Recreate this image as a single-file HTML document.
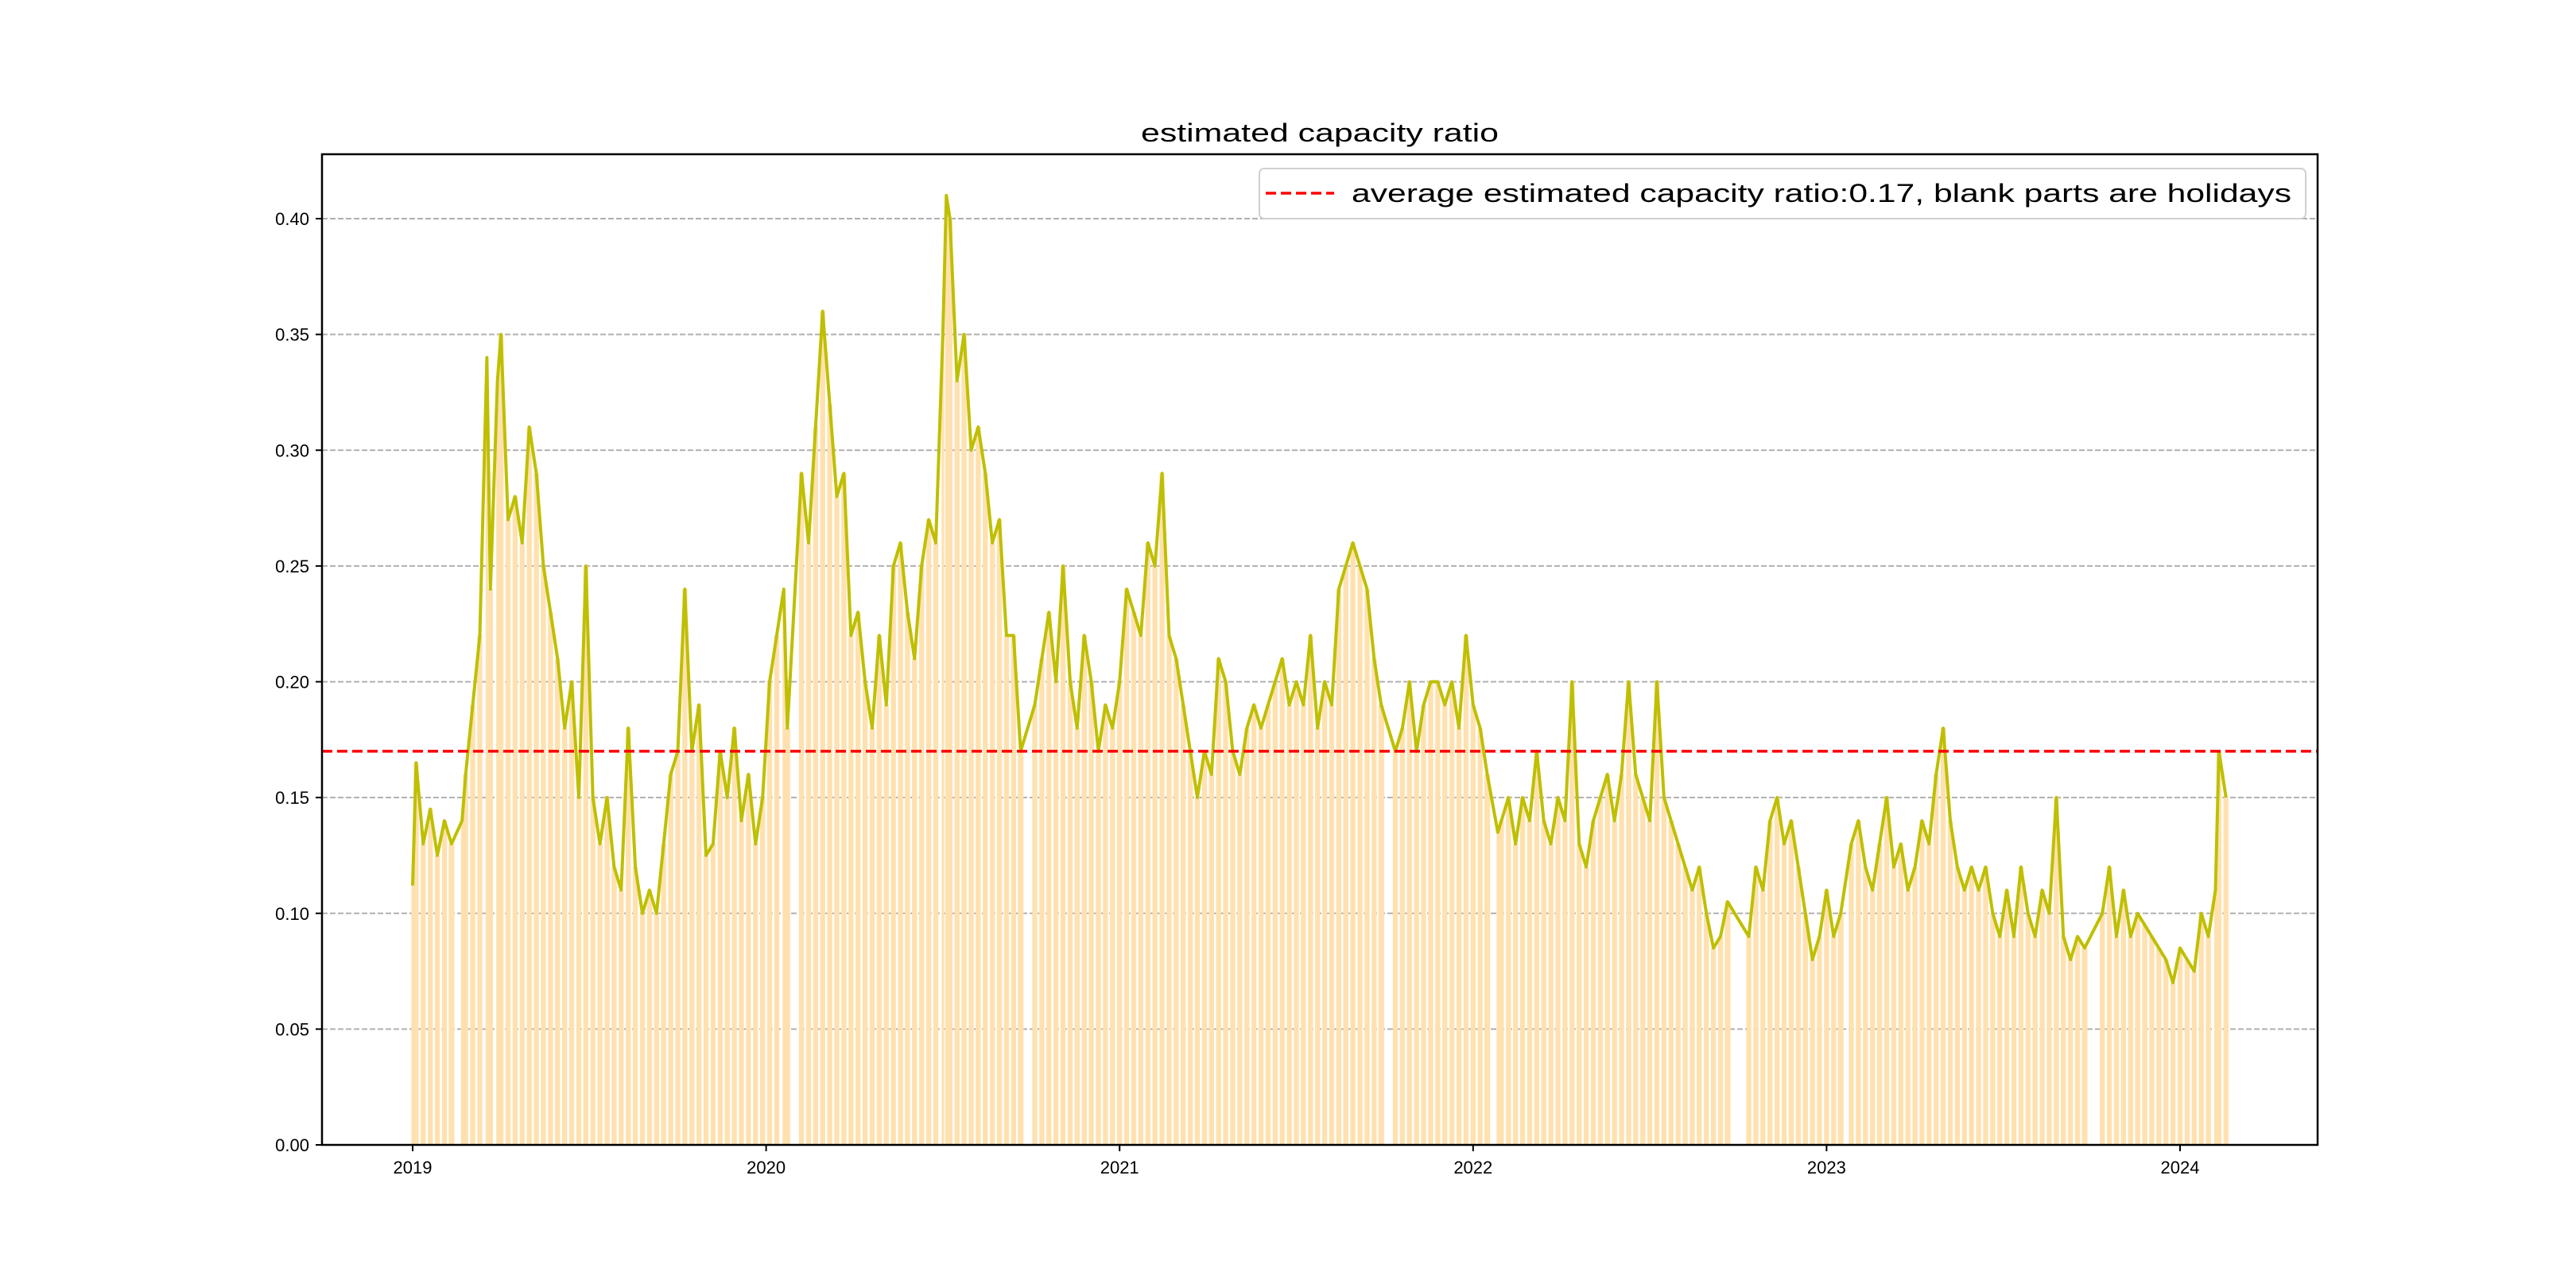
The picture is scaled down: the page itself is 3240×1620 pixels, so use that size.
<!DOCTYPE html>
<html><head><meta charset="utf-8"><style>
html,body{margin:0;padding:0;background:#fff;}
svg{display:block;}
text{font-family:"Liberation Sans","Noto Sans CJK SC",sans-serif;}
</style></head><body>
<svg id="chart" width="3240" height="1620" viewBox="0 0 3240 1620" xmlns="http://www.w3.org/2000/svg">
<rect width="3240" height="1620" fill="#fff"/>
<text x="1660" y="178" text-anchor="middle" font-size="32" textLength="450" lengthAdjust="spacingAndGlyphs">estimated capacity ratio</text>
<g id="grid"></g>
<g id="bars"></g>
<g id="line"></g>
<g id="axes"></g>
<g id="legend">
<rect x="1584" y="212" width="1316" height="63" rx="6" fill="#fff" stroke="#d0d0d0" stroke-width="2"/>
<line x1="1592" y1="243" x2="1678" y2="243" stroke="#ff0000" stroke-width="3.5" stroke-dasharray="13,6"/>
<text x="1700" y="254" font-size="32" textLength="1182" lengthAdjust="spacingAndGlyphs">average estimated capacity ratio:0.17, blank parts are holidays</text>
</g>
</svg>
<script>
const dates = [2019.00,2019.01,2019.03,2019.05,2019.07,2019.09,2019.11,2019.14,2019.15,2019.17,2019.19,2019.21,2019.22,2019.24,2019.25,2019.27,2019.29,2019.31,2019.33,2019.35,2019.37,2019.39,2019.41,2019.43,2019.45,2019.47,2019.49,2019.51,2019.53,2019.55,2019.57,2019.59,2019.61,2019.63,2019.65,2019.67,2019.69,2019.71,2019.73,2019.75,2019.77,2019.79,2019.81,2019.83,2019.85,2019.87,2019.89,2019.91,2019.93,2019.95,2019.97,2019.99,2020.01,2020.03,2020.05,2020.06,2020.10,2020.12,2020.14,2020.16,2020.18,2020.20,2020.22,2020.24,2020.26,2020.28,2020.30,2020.32,2020.34,2020.36,2020.38,2020.40,2020.42,2020.44,2020.46,2020.48,2020.50,2020.51,2020.52,2020.54,2020.56,2020.58,2020.60,2020.62,2020.64,2020.66,2020.68,2020.70,2020.72,2020.76,2020.78,2020.80,2020.82,2020.84,2020.86,2020.88,2020.90,2020.92,2020.94,2020.96,2020.98,2021.00,2021.02,2021.04,2021.06,2021.08,2021.10,2021.12,2021.14,2021.16,2021.18,2021.20,2021.22,2021.24,2021.26,2021.28,2021.30,2021.32,2021.34,2021.36,2021.38,2021.40,2021.42,2021.44,2021.46,2021.48,2021.50,2021.52,2021.54,2021.56,2021.58,2021.60,2021.62,2021.64,2021.66,2021.68,2021.70,2021.72,2021.74,2021.78,2021.80,2021.82,2021.84,2021.86,2021.88,2021.90,2021.92,2021.94,2021.96,2021.98,2022.00,2022.02,2022.04,2022.07,2022.08,2022.10,2022.12,2022.14,2022.16,2022.18,2022.20,2022.22,2022.24,2022.26,2022.28,2022.30,2022.32,2022.34,2022.36,2022.38,2022.40,2022.42,2022.44,2022.46,2022.48,2022.50,2022.52,2022.54,2022.56,2022.58,2022.60,2022.62,2022.64,2022.66,2022.68,2022.70,2022.72,2022.78,2022.80,2022.82,2022.84,2022.86,2022.88,2022.90,2022.92,2022.94,2022.96,2022.98,2023.00,2023.02,2023.04,2023.07,2023.09,2023.11,2023.13,2023.15,2023.17,2023.19,2023.21,2023.23,2023.25,2023.27,2023.29,2023.31,2023.33,2023.35,2023.37,2023.39,2023.41,2023.43,2023.45,2023.47,2023.49,2023.51,2023.53,2023.55,2023.57,2023.59,2023.61,2023.63,2023.65,2023.67,2023.69,2023.71,2023.73,2023.78,2023.80,2023.82,2023.84,2023.86,2023.88,2023.90,2023.92,2023.94,2023.96,2023.98,2024.00,2024.02,2024.04,2024.06,2024.08,2024.10,2024.11,2024.13];
const ratios = [0.112,0.165,0.13,0.145,0.125,0.14,0.13,0.14,0.16,0.19,0.22,0.34,0.24,0.33,0.35,0.27,0.28,0.26,0.31,0.29,0.25,0.23,0.21,0.18,0.20,0.15,0.25,0.15,0.13,0.15,0.12,0.11,0.18,0.12,0.10,0.11,0.10,0.13,0.16,0.17,0.24,0.17,0.19,0.125,0.13,0.17,0.15,0.18,0.14,0.16,0.13,0.15,0.20,0.22,0.24,0.18,0.29,0.26,0.31,0.36,0.32,0.28,0.29,0.22,0.23,0.20,0.18,0.22,0.19,0.25,0.26,0.23,0.21,0.25,0.27,0.26,0.35,0.41,0.40,0.33,0.35,0.30,0.31,0.29,0.26,0.27,0.22,0.22,0.17,0.19,0.21,0.23,0.20,0.25,0.20,0.18,0.22,0.20,0.17,0.19,0.18,0.20,0.24,0.23,0.22,0.26,0.25,0.29,0.22,0.21,0.19,0.17,0.15,0.17,0.16,0.21,0.20,0.17,0.16,0.18,0.19,0.18,0.19,0.20,0.21,0.19,0.20,0.19,0.22,0.18,0.20,0.19,0.24,0.25,0.26,0.25,0.24,0.21,0.19,0.17,0.18,0.20,0.17,0.19,0.20,0.20,0.19,0.20,0.18,0.22,0.19,0.18,0.16,0.135,0.14,0.15,0.13,0.15,0.14,0.17,0.14,0.13,0.15,0.14,0.20,0.13,0.12,0.14,0.15,0.16,0.14,0.16,0.20,0.16,0.15,0.14,0.20,0.15,0.14,0.13,0.12,0.11,0.12,0.10,0.085,0.09,0.105,0.09,0.12,0.11,0.14,0.15,0.13,0.14,0.12,0.10,0.08,0.09,0.11,0.09,0.10,0.13,0.14,0.12,0.11,0.13,0.15,0.12,0.13,0.11,0.12,0.14,0.13,0.16,0.18,0.14,0.12,0.11,0.12,0.11,0.12,0.10,0.09,0.11,0.09,0.12,0.10,0.09,0.11,0.10,0.15,0.09,0.08,0.09,0.085,0.10,0.12,0.09,0.11,0.09,0.10,0.095,0.09,0.085,0.08,0.07,0.085,0.08,0.075,0.10,0.09,0.11,0.17,0.15];
const yTicks = [0,0.05,0.10,0.15,0.20,0.25,0.30,0.35,0.40];
const yTickLabels = ["0.00","0.05","0.10","0.15","0.20","0.25","0.30","0.35","0.40"];
const xTicks = [2019,2020,2021,2022,2023,2024];
const averageRatio = [0.17];

const NS="http://www.w3.org/2000/svg";
const L=405,R=2915,T=194,B=1440;
const X0=519,PX_PER_YEAR=(2742-519)/5;
function xs(d){return X0+(d-2019)*PX_PER_YEAR;}
function ys(v){return B-v*((B-275)/0.40);}
function mk(tag,attrs,parent){const e=document.createElementNS(NS,tag);for(const k in attrs)e.setAttribute(k,attrs[k]);parent.appendChild(e);return e;}

const grid=document.getElementById('grid');
yTicks.forEach((t,i)=>{
  if(t===0)return;
  const g=mk('line',{x1:L,x2:R,y1:ys(t),y2:ys(t),stroke:'#b0b0b0','stroke-width':2,'stroke-dasharray':'7,3'},grid);
  
  
});

const bars=document.getElementById('bars');
dates.forEach((d,i)=>{
  const next=i<dates.length-1?dates[i+1]:d+0.02;
  const sp=Math.min(xs(next)-xs(d),10);
  const w=Math.max(sp*0.72,2);
  const r=mk('rect',{x:xs(d)-w/2,y:ys(ratios[i]),width:w,height:B-ys(ratios[i]),fill:'#ffe1b0'},bars);
  
  
});

const lineG=document.getElementById('line');
const pts=dates.map((d,i)=>xs(d).toFixed(1)+','+ys(ratios[i]).toFixed(1)).join(' ');
const pl=mk('polyline',{points:pts,fill:'none',stroke:'#bfbf00','stroke-width':4,'stroke-linejoin':'round'},lineG);


const av=mk('line',{x1:L,x2:R,y1:ys(averageRatio[0]),y2:ys(averageRatio[0]),stroke:'#ff0000','stroke-width':3.5,'stroke-dasharray':'13,6'},lineG);



const axes=document.getElementById('axes');
const frame=mk('rect',{x:L,y:T,width:R-L,height:B-T,fill:'none',stroke:'#000','stroke-width':2.5},axes);


yTicks.forEach((t,i)=>{
  mk('line',{x1:L-8,x2:L,y1:ys(t),y2:ys(t),stroke:'#000','stroke-width':2},axes);
  const tx=mk('text',{x:L-16,y:ys(t)+8,'text-anchor':'end','font-size':22},axes);
  
  
  tx.textContent=yTickLabels[i];
});
xTicks.forEach(t=>{
  mk('line',{x1:xs(t),x2:xs(t),y1:B,y2:B+8,stroke:'#000','stroke-width':2},axes);
  const tx=mk('text',{x:xs(t),y:B+36,'text-anchor':'middle','font-size':22},axes);
  
  
  tx.textContent=String(t);
});
</script>
</body></html>
